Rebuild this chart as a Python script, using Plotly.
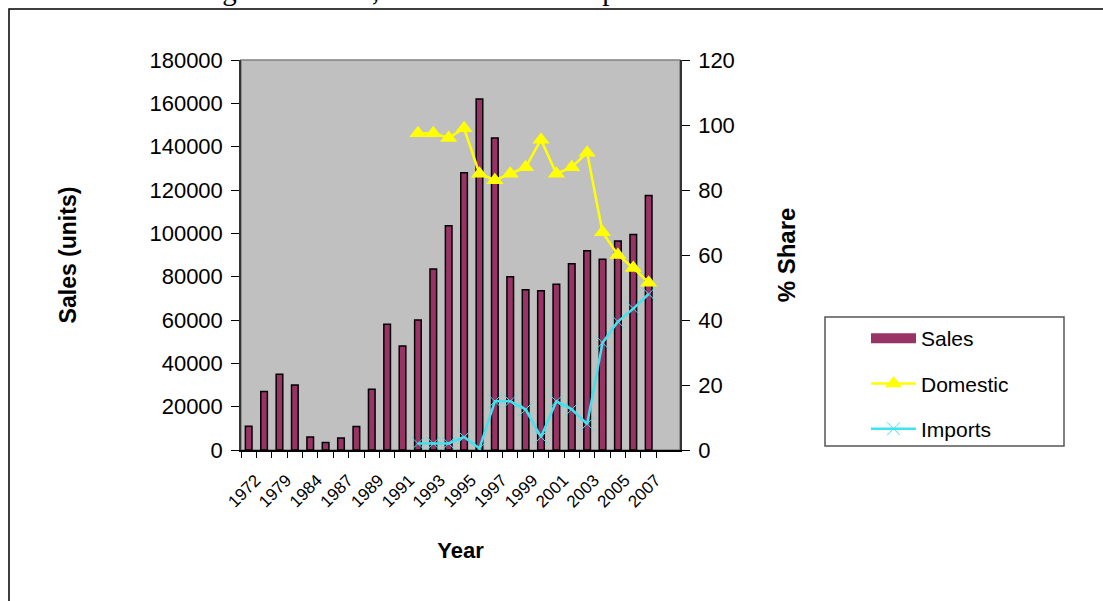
import plotly.graph_objects as go

years = ["1972", "1975", "1979", "1981", "1984", "1986", "1987", "1988", "1989", "1990",
         "1991", "1992", "1993", "1994", "1995", "1996", "1997", "1998", "1999", "2000",
         "2001", "2002", "2003", "2004", "2005", "2006", "2007"]
sales = [11000, 27000, 35000, 30000, 6000, 3500, 5500, 10800, 28000, 58000,
         48000, 60000, 83500, 103500, 128000, 162000, 144000, 80000, 74000, 73500,
         76500, 86000, 92000, 88000, 96500, 99500, 117500]
share_years = ["1992", "1993", "1994", "1995", "1996", "1997", "1998", "1999", "2000",
               "2001", "2002", "2003", "2004", "2005", "2006", "2007"]
domestic = [97.5, 97.5, 96, 99, 85, 83, 85, 87, 95.5, 85, 87, 91.5, 67, 60, 56, 51.5]
imports = [2, 2, 2, 4, 0.5, 15, 15, 12.5, 4, 15, 12.5, 8, 33, 39.5, 43.5, 48]
tick_text = [y if i % 2 == 0 else "" for i, y in enumerate(years)]

W, H = 1103, 601
L, R, T, B = 241, 680, 60, 450

def px_x(p):
    return (p - L) / (R - L)

def px_y(p):
    return (B - p) / (B - T)

PLUM = "#993366"
CYAN = "#3FE3EE"

fig = go.Figure()
fig.add_trace(go.Bar(
    x=years, y=sales, name="Sales", showlegend=False,
    marker=dict(color=PLUM, line=dict(color="black", width=1.5)),
))
# legend entry for the bars (wide swatch like the original)
fig.add_trace(go.Scatter(
    x=[None], y=[None], name="Sales", mode="lines", legendgroup="a",
    line=dict(color=PLUM, width=11),
))
fig.add_trace(go.Scatter(
    x=share_years, y=domestic, name="Domestic", yaxis="y2", legendgroup="b",
    mode="lines+markers",
    line=dict(color="#FFFF00", width=2.5),
    marker=dict(symbol="triangle-up", size=15, color="#FFFF00"),
))
fig.add_trace(go.Scatter(
    x=share_years, y=imports, name="Imports", yaxis="y2", legendgroup="c",
    mode="lines+markers",
    line=dict(color=CYAN, width=2.5),
    marker=dict(symbol="x-thin", size=13, line=dict(color=CYAN, width=1)),
))

font = "Arial, Liberation Sans, sans-serif"
fig.update_layout(
    width=W, height=H,
    margin=dict(l=L, r=W - R, t=T, b=H - B),
    paper_bgcolor="white",
    plot_bgcolor="#C0C0C0",
    bargap=0.57,
    showlegend=True,
    font=dict(family=font, color="black", size=20),
    xaxis=dict(
        type="category", categoryorder="array", categoryarray=years,
        tickmode="array", tickvals=years, ticktext=tick_text,
        tickson="boundaries", ticks="outside", ticklen=6, tickcolor="black",
        tickangle=-45, tickfont=dict(size=17), ticklabelstandoff=12,
        ticklabelshift=7,
        showline=True, linecolor="black", linewidth=1.5,
        showgrid=False, zeroline=False,
        title=dict(text="<b>Year</b>", font=dict(size=22), standoff=32),
    ),
    yaxis=dict(
        range=[0, 180000], dtick=20000, tickformat="d",
        ticks="outside", ticklen=8, tickcolor="black", ticklabelstandoff=4,
        showline=True, linecolor="#333333", linewidth=1.5,
        showgrid=False, zeroline=False,
        tickfont=dict(size=22),
        title=dict(text="<b>Sales (units)</b>", font=dict(size=23), standoff=66),
    ),
    yaxis2=dict(
        range=[0, 120], dtick=20, overlaying="y", side="right",
        ticks="outside", ticklen=8, tickcolor="black", ticklabelstandoff=4,
        showline=True, linecolor="#333333", linewidth=1.5,
        showgrid=False, zeroline=False,
        tickfont=dict(size=22),
        title=dict(text="<b>% Share</b>", font=dict(size=24), standoff=44),
    ),
    legend=dict(
        x=px_x(866), y=px_y(318), xanchor="left", yanchor="top",
        bgcolor="rgba(0,0,0,0)", borderwidth=0,
        font=dict(size=21), traceorder="grouped", tracegroupgap=15,
        itemwidth=45,
    ),
    shapes=[
        dict(type="rect", xref="paper", yref="paper", x0=0, x1=1, y0=0, y1=1,
             line=dict(color="#808080", width=1.5), layer="below"),
        dict(type="rect", xref="paper", yref="paper",
             x0=px_x(9), x1=px_x(1120), y0=px_y(9), y1=px_y(620),
             line=dict(color="black", width=1.5), layer="below"),
        dict(type="rect", xref="paper", yref="paper",
             x0=px_x(825), x1=px_x(1064), y0=px_y(446), y1=px_y(317),
             line=dict(color="#555555", width=1.5), fillcolor="white", layer="below"),
    ],
    annotations=[
        dict(text="Figure 4: Sales, Production and Imports Market Share 1972-2007",
             xref="paper", yref="paper", x=px_x(196), y=px_y(8),
             xanchor="left", yanchor="bottom", showarrow=False,
             font=dict(family="Liberation Serif, Times New Roman, serif", size=29)),
    ],
)

fig.write_html("out.html", config={"displayModeBar": False},
               post_script="document.body.style.margin='0';document.body.style.overflow='hidden';")
